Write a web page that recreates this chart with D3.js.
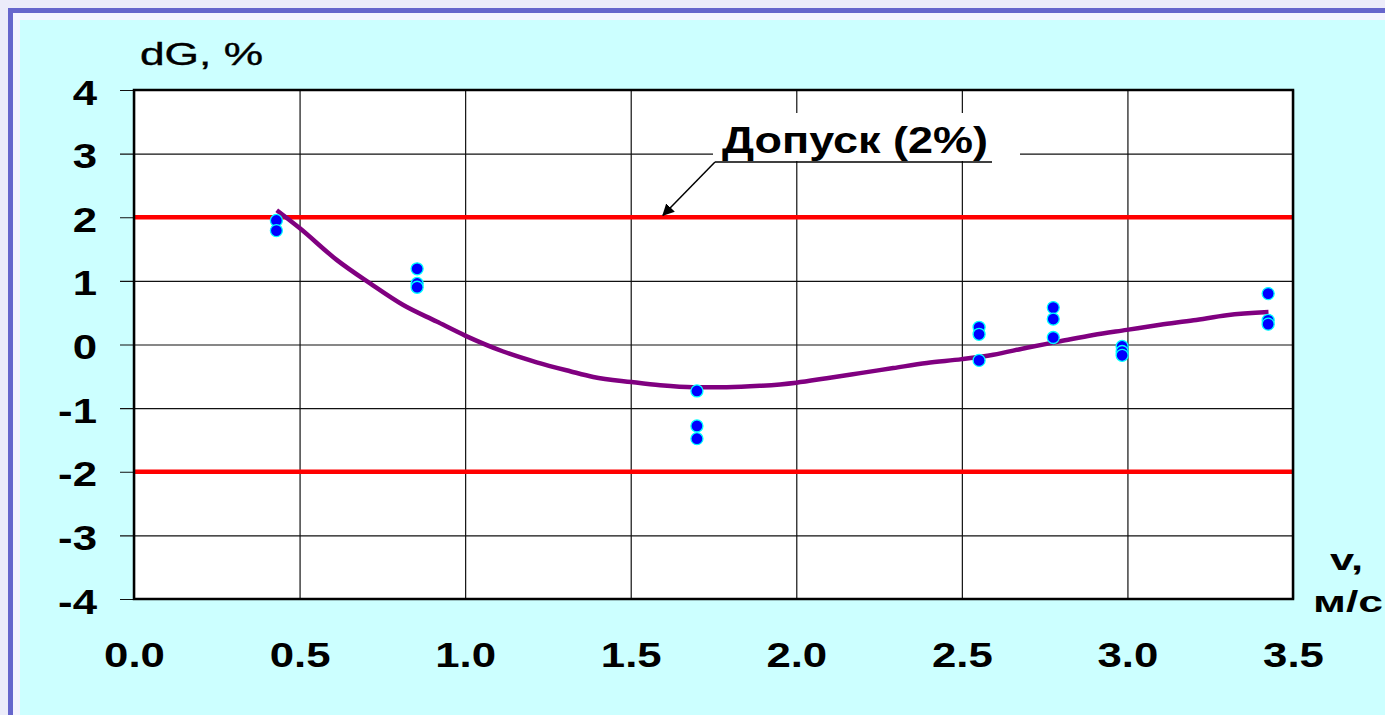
<!DOCTYPE html>
<html>
<head>
<meta charset="utf-8">
<script src="https://cdn.jsdelivr.net/npm/d3@7"></script>
<style>
  html, body { margin: 0; padding: 0; background: #ECECFA; }
  svg { display: block; }
  text { font-family: "Liberation Sans", Arial, sans-serif; fill: #000; }
</style>
</head>
<body>
<svg id="chart" width="1385" height="715"></svg>
<script>
// Axis ticks
const xTicks = [0.0, 0.5, 1.0, 1.5, 2.0, 2.5, 3.0, 3.5];
const yTicks = [-4, -3, -2, -1, 0, 1, 2, 3, 4];

// Tolerance band, %
const toleranceLevels = [2, -2];
const toleranceLabel = "Допуск (2%)";

// Measured points: flow velocity v, m/s and deviation dG, %
const pointV  = [0.43, 0.43, 0.855, 0.855, 0.855, 1.70, 1.70, 1.70,
                 2.552, 2.552, 2.552, 2.776, 2.776, 2.776, 2.984, 2.984, 2.984,
                 3.425, 3.425, 3.425];
const pointDG = [1.95, 1.79, 1.19, 0.96, 0.90, -0.73, -1.28, -1.48,
                 0.27, 0.16, -0.25, 0.58, 0.40, 0.11, -0.03, -0.11, -0.17,
                 0.80, 0.38, 0.32];

// Trend line
const trendV  = [0.431, 0.5, 0.612, 0.713, 0.813, 0.914, 1.0, 1.115, 1.216, 1.317,
                 1.387, 1.503, 1.589, 1.689, 1.79, 1.89, 2.0, 2.092, 2.193, 2.293,
                 2.394, 2.5, 2.595, 2.696, 2.797, 2.897, 2.998, 3.099, 3.2, 3.30, 3.426];
const trendDG = [2.11, 1.83, 1.33, 0.96, 0.62, 0.36, 0.14, -0.11, -0.28, -0.42,
                 -0.51, -0.59, -0.64, -0.67, -0.67, -0.65, -0.60, -0.53, -0.45, -0.37,
                 -0.29, -0.23, -0.16, -0.05, 0.05, 0.15, 0.23, 0.31, 0.38, 0.46, 0.51];

const svg = d3.select("#chart");

// Panel frame
svg.append("rect").attr("x", 0).attr("y", 0).attr("width", 1385).attr("height", 715).attr("fill", "#ECECFA");
svg.append("rect").attr("x", 8).attr("y", 8).attr("width", 1377).attr("height", 707).attr("fill", "#6666CC");
svg.append("rect").attr("x", 13).attr("y", 13).attr("width", 1372).attr("height", 702).attr("fill", "#F4F4FF");
svg.append("rect").attr("x", 20).attr("y", 20).attr("width", 1365).attr("height", 695).attr("fill", "#CCFFFF");

const plotLeft = 134, plotRight = 1293, plotTop = 90, plotBottom = 599;
const x = d3.scaleLinear().domain([0, 3.5]).range([plotLeft, plotRight]);
const y = d3.scaleLinear().domain([-4, 4]).range([plotBottom, plotTop]);
const W = plotRight - plotLeft, H = plotBottom - plotTop;

// Plot background
svg.append("rect").attr("x", plotLeft).attr("y", plotTop).attr("width", W).attr("height", H).attr("fill", "#FFFFFF");

const sx = 1.25;

// Y axis with gridlines and outside tick marks
const gy = svg.append("g").attr("transform", `translate(${plotLeft},0)`)
  .call(d3.axisLeft(y).tickValues(yTicks).tickFormat(d => String(d)).tickSizeInner(-W).tickSizeOuter(0));
gy.select(".domain").remove();
gy.selectAll(".tick line").attr("x1", -14).attr("stroke", "#111").attr("stroke-width", 1.2);
gy.selectAll(".tick text")
  .attr("x", -37 / sx).attr("dy", 0).attr("y", 14)
  .attr("transform", `scale(${sx},1)`)
  .attr("font-size", 35).attr("font-weight", "bold").attr("fill", "#000")
  .attr("font-family", "'Liberation Sans', Arial, sans-serif");

// X axis with gridlines
const gx = svg.append("g").attr("transform", `translate(0,${plotBottom})`)
  .call(d3.axisBottom(x).tickValues(xTicks).tickFormat(d => d.toFixed(1)).tickSizeInner(-H).tickSizeOuter(0));
gx.select(".domain").remove();
gx.selectAll(".tick line").attr("stroke", "#111").attr("stroke-width", 1.2);
gx.selectAll(".tick text")
  .attr("y", 68).attr("dy", 0)
  .attr("transform", `scale(${sx},1)`)
  .attr("font-size", 35).attr("font-weight", "bold").attr("fill", "#000")
  .attr("font-family", "'Liberation Sans', Arial, sans-serif");

// Tolerance lines
svg.selectAll("line.tol").data(toleranceLevels).join("line")
  .attr("class", "tol")
  .attr("x1", x(0)).attr("x2", x(3.5))
  .attr("y1", d => y(d)).attr("y2", d => y(d))
  .attr("stroke", "#FF0000").attr("stroke-width", 4.5);

// Plot border
svg.append("rect").attr("x", plotLeft).attr("y", plotTop).attr("width", W).attr("height", H)
  .attr("fill", "none").attr("stroke", "#000").attr("stroke-width", 2.5);

// Annotation for the tolerance line
const ann = svg.append("g");
ann.append("rect").attr("x", 713).attr("y", 113).attr("width", 307).attr("height", 48).attr("fill", "#FFFFFF");
ann.append("text").attr("x", 722).attr("y", 153)
  .attr("font-size", 36).attr("font-weight", "bold")
  .attr("textLength", 266).attr("lengthAdjust", "spacingAndGlyphs")
  .text(toleranceLabel);
ann.append("line").attr("x1", 715).attr("y1", 162).attr("x2", 992).attr("y2", 162)
  .attr("stroke", "#000").attr("stroke-width", 1.5);
svg.append("defs").append("marker")
  .attr("id", "arrow").attr("viewBox", "0 0 10 10").attr("refX", 9).attr("refY", 5)
  .attr("markerWidth", 12).attr("markerHeight", 12).attr("markerUnits", "userSpaceOnUse")
  .attr("orient", "auto")
  .append("path").attr("d", "M0,0 L10,5 L0,10 z").attr("fill", "#000");
const tipX = 663, tipY = y(toleranceLevels[0]) - 2;
ann.append("line").attr("x1", 715).attr("y1", 162).attr("x2", tipX).attr("y2", tipY)
  .attr("stroke", "#000").attr("stroke-width", 1.5).attr("marker-end", "url(#arrow)");

// Trend curve
const trend = trendV.map((v, i) => [v, trendDG[i]]);
svg.append("path").datum(trend)
  .attr("d", d3.line().x(d => x(d[0])).y(d => y(d[1])).curve(d3.curveMonotoneX))
  .attr("fill", "none").attr("stroke", "#800080").attr("stroke-width", 4.5)
  .attr("stroke-linejoin", "round");

// Measured points
const pts = pointV.map((v, i) => [v, pointDG[i]]);
svg.selectAll("circle.pt").data(pts).join("circle")
  .attr("class", "pt")
  .attr("cx", d => x(d[0])).attr("cy", d => y(d[1])).attr("r", 6)
  .attr("fill", "#0000FF").attr("stroke", "#00FFFF").attr("stroke-width", 1.3);

// Axis titles
svg.append("text").attr("x", 140).attr("y", 65)
  .attr("font-size", 32).attr("textLength", 123).attr("lengthAdjust", "spacingAndGlyphs")
  .attr("stroke", "#000").attr("stroke-width", 0.4)
  .text("dG, %");
svg.append("text").attr("x", 1330).attr("y", 570)
  .attr("font-size", 30).attr("font-weight", "bold")
  .attr("textLength", 33).attr("lengthAdjust", "spacingAndGlyphs")
  .text("v,");
svg.append("text").attr("x", 1313).attr("y", 612)
  .attr("font-size", 30).attr("font-weight", "bold")
  .attr("textLength", 70).attr("lengthAdjust", "spacingAndGlyphs")
  .text("м/с");
</script>
</body>
</html>
